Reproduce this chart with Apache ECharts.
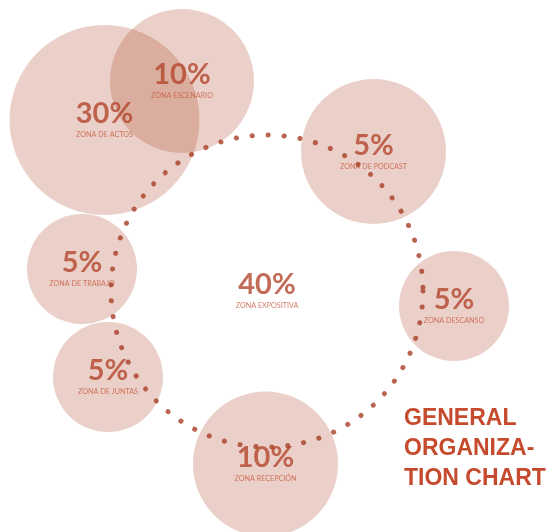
<!DOCTYPE html>
<html>
<head>
<meta charset="utf-8">
<script src="https://cdn.jsdelivr.net/npm/echarts@6/dist/echarts.min.js"></script>
<style>
html,body{margin:0;padding:0;background:#fff;}
#chart{width:547px;height:532px;}
</style>
</head>
<body>
<div id="chart"></div>
<script>
// Zones (bubbles)
var zoneNames = ['ZONA DE ACTOS', 'ZONA ESCENARIO', 'ZONA DE PODCAST', 'ZONA DESCANSO', 'ZONA DE TRABAJO', 'ZONA DE JUNTAS', 'ZONA RECEPCIÓN'];
var zonePercents = [30, 10, 5, 5, 5, 5, 10];
var zoneX = [104.5, 182, 373.5, 454, 82, 108, 265.5];
var zoneY = [120, 81, 151.5, 306, 269, 377, 464];
var zoneDiameter = [190, 144, 145, 110, 110, 110, 145];

// Central exhibition zone (dotted ring)
var centerName = ['ZONA EXPOSITIVA'];
var centerPercent = [40];
var centerX = [267];
var centerY = [291];
var centerDiameter = [312];

var titleLines = ['GENERAL', 'ORGANIZA-', 'TION CHART'];

var pctColor = '#B3462D';
var lblColor = '#C85A3E';
var dotColor = '#A83D26';

function fmt(p) {
  return '{p|' + p.data.pct + '%}\n{l|' + p.data.name + '}';
}
var richStyle = {
  p: {fontFamily: 'Lato', fontWeight: 'bold', fontSize: 29, color: pctColor, lineHeight: 30, align: 'center'},
  l: {fontFamily: 'Lato', fontSize: 7.2, color: lblColor, lineHeight: 12, align: 'center'}
};

var zoneData = zoneNames.map(function (n, i) {
  return {name: n, pct: zonePercents[i], value: [zoneX[i], zoneY[i]], symbolSize: zoneDiameter[i]};
});
var centerData = centerName.map(function (n, i) {
  return {name: n, pct: centerPercent[i], value: [centerX[i], centerY[i]], symbolSize: centerDiameter[i]};
});

var chart = echarts.init(document.getElementById('chart'));
chart.setOption({
  animation: false,
  title: {
    text: titleLines.join('\n'),
    left: 404, top: 404, padding: 0,
    textStyle: {fontFamily: 'Liberation Sans', fontWeight: 'bold', fontSize: 23, lineHeight: 30, color: '#C64B2E'}
  },
  grid: {left: 0, right: 0, top: 0, bottom: 0},
  xAxis: {type: 'value', min: 0, max: 547, show: false},
  yAxis: {type: 'value', min: 0, max: 532, inverse: true, show: false},
  series: [
    {
      type: 'scatter', z: 2,
      symbol: 'circle',
      data: zoneData,
      itemStyle: {color: 'rgba(170,60,30,0.3)'},
      label: {show: true, position: 'inside', formatter: fmt, rich: richStyle},
      emphasis: {disabled: true}
    },
    {
      type: 'scatter', z: 3,
      symbol: 'circle',
      data: centerData,
      itemStyle: {color: 'rgba(0,0,0,0)', borderColor: dotColor, borderWidth: 5, borderType: [0.1, 15.9], borderCap: 'round'},
      label: {show: true, position: 'inside', formatter: fmt, rich: richStyle},
      emphasis: {disabled: true}
    }
  ]
});
</script>
</body>
</html>
